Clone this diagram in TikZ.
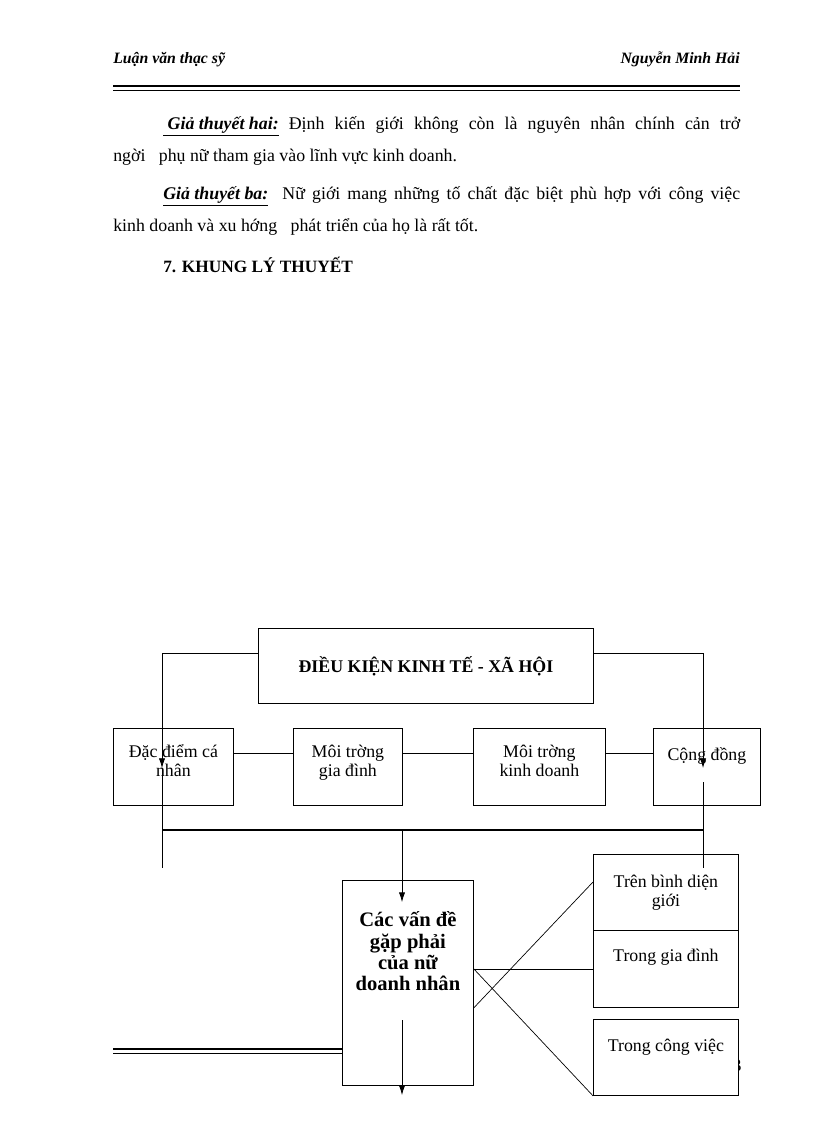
\documentclass[tikz,border=0pt]{standalone}
\usepackage{fontspec}
\setmainfont{Liberation Serif}
\usetikzlibrary{positioning}
\usetikzlibrary{arrows.meta}
\newcommand{\pu}{0.729pt}
\tikzset{
  bodytext/.style={anchor=base west,inner sep=0pt,font=\fontsize{13}{15}\selectfont},
  headtext/.style={inner sep=0pt,font=\fontsize{11.5}{13}\selectfont\bfseries\itshape},
  box/.style={anchor=north west,draw,fill=white,shape=rectangle,align=center,inner sep=2pt,line width=0.6pt,font=\fontsize{13}{14}\selectfont},
  lifted/.style={text depth=#1},
  link/.style={line width=0.5pt}
}

\begin{document}
\begin{tikzpicture}[x=0.729pt,y=-0.729pt,>={Latex[length=7pt,width=4.5pt]}]
\useasboundingbox (0,0) rectangle (816,1123);

% page header
\node[headtext,anchor=base west] (hleft) at (113,64) {Luận văn thạc sỹ};
\node[headtext,anchor=base east] (hright) at (740,64) {Nguyễn Minh Hải};
\draw[line width=1.6pt] (113,86) -- (740,86);
\draw[line width=0.5pt] (113,90) -- (740,90);

% text above the frame
\node[bodytext] (line1) at (163,130) {\makebox[420.6pt][s]{\underline{\textbf{\textit{\ Giả thuyết hai:}}} Định kiến giới không còn là nguyên nhân chính cản trở}};
\node[bodytext] (line2) at (113,162) {ngời\ \ \ phụ nữ tham gia vào lĩnh vực kinh doanh.};
\node[bodytext] (line3) at (163,200) {\makebox[420.6pt][s]{\underline{\textbf{\textit{Giả thuyết ba:}}}\ \ Nữ giới mang những tố chất đặc biệt phù hợp với công việc}};
\node[bodytext] (line4) at (113,232) {kinh doanh và xu hớng\ \ \ phát triển của họ là rất tốt.};
\node[bodytext,font=\fontsize{12.6}{15}\selectfont\bfseries] (heading) at (163,272) {7. KHUNG LÝ THUYẾT};

% page footer, mostly hidden by the frame
\draw[line width=1.6pt] (113,1049) -- (342,1049);
\draw[line width=0.5pt] (113,1053) -- (342,1053);
\node[font=\fontsize{13}{15}\selectfont] (pagenum) at (737,1066) {3};

% the frame
\node[box,font=\fontsize{13}{15}\selectfont\bfseries,minimum width=335*\pu,minimum height=75*\pu]
(dieukien) at (258,628) {ĐIỀU KIỆN KINH TẾ - XÃ HỘI};
\node[box,lifted=9pt,minimum width=120*\pu,minimum height=77*\pu]
(canhan) at (113,728) {Đặc điểm cá\\nhân};
\node[box,lifted=9pt,minimum width=109*\pu,minimum height=77*\pu]
(giadinh) at (293,728) {Môi trờng\\gia đình};
\node[box,lifted=9pt,minimum width=132*\pu,minimum height=77*\pu]
(kinhdoanh) at (473,728) {Môi trờng\\kinh doanh};
\node[box,lifted=19pt,minimum width=107*\pu,minimum height=77*\pu]
(congdong) at (653,728) {Cộng đồng};
\node[box,lifted=46pt,font=\fontsize{15}{15.5}\selectfont\bfseries,minimum width=131*\pu,minimum height=205*\pu]
(vande) at (342,880) {Các vấn đề\\gặp phải\\của nữ\\doanh nhân};
\node[box,minimum width=145*\pu,minimum height=76*\pu]
(gioi) at (593,854) {Trên bình diện\\giới};
\node[box,lifted=20pt,minimum width=145*\pu,minimum height=77*\pu]
(tronggd) at (593,930) {Trong gia đình};
\node[box,lifted=18pt,minimum width=145*\pu,minimum height=76*\pu]
(congviec) at (593,1019) {Trong công việc};

% connectors
\coordinate (lcorner) at (162,653);
\coordinate (larrow) at (162,768);
\coordinate (lend) at (162,868);
\coordinate (rcorner) at (703,653);
\coordinate (rarrow) at (703,768);
\coordinate (rstart) at (703,782);
\coordinate (rend) at (703,868);
\coordinate (rowline) at (0,753);
\coordinate (lbar) at (162,830);
\coordinate (rbar) at (703,830);
\coordinate (mtop) at (402,830);
\coordinate (marrow) at (402,902);
\coordinate (dstart) at (402,1020);
\coordinate (darrow) at (402,1095);

\draw[link,->] (dieukien.west |- lcorner) -- (lcorner) -- (larrow);
\draw[link] (larrow) -- (lend);
\draw[link,->] (dieukien.east |- rcorner) -- (rcorner) -- (rarrow);
\draw[link] (rstart) -- (rend);
\draw[link] (canhan.east |- rowline) -- (giadinh.west |- rowline);
\draw[link] (giadinh.east |- rowline) -- (kinhdoanh.west |- rowline);
\draw[link] (kinhdoanh.east |- rowline) -- (congdong.west |- rowline);
\draw[line width=1pt] (lbar) -- (rbar);
\draw[link,->] (mtop) -- (marrow);
\draw[link,->] (dstart) -- (darrow);
\draw[link] (vande.east |- tronggd.west) -- (tronggd.west);
\draw[link] (vande.east |- tronggd.south) -- (gioi.west |- 0,882);
\draw[link] (vande.east |- tronggd.west) -- (congviec.south west);

\end{tikzpicture}
\end{document}
